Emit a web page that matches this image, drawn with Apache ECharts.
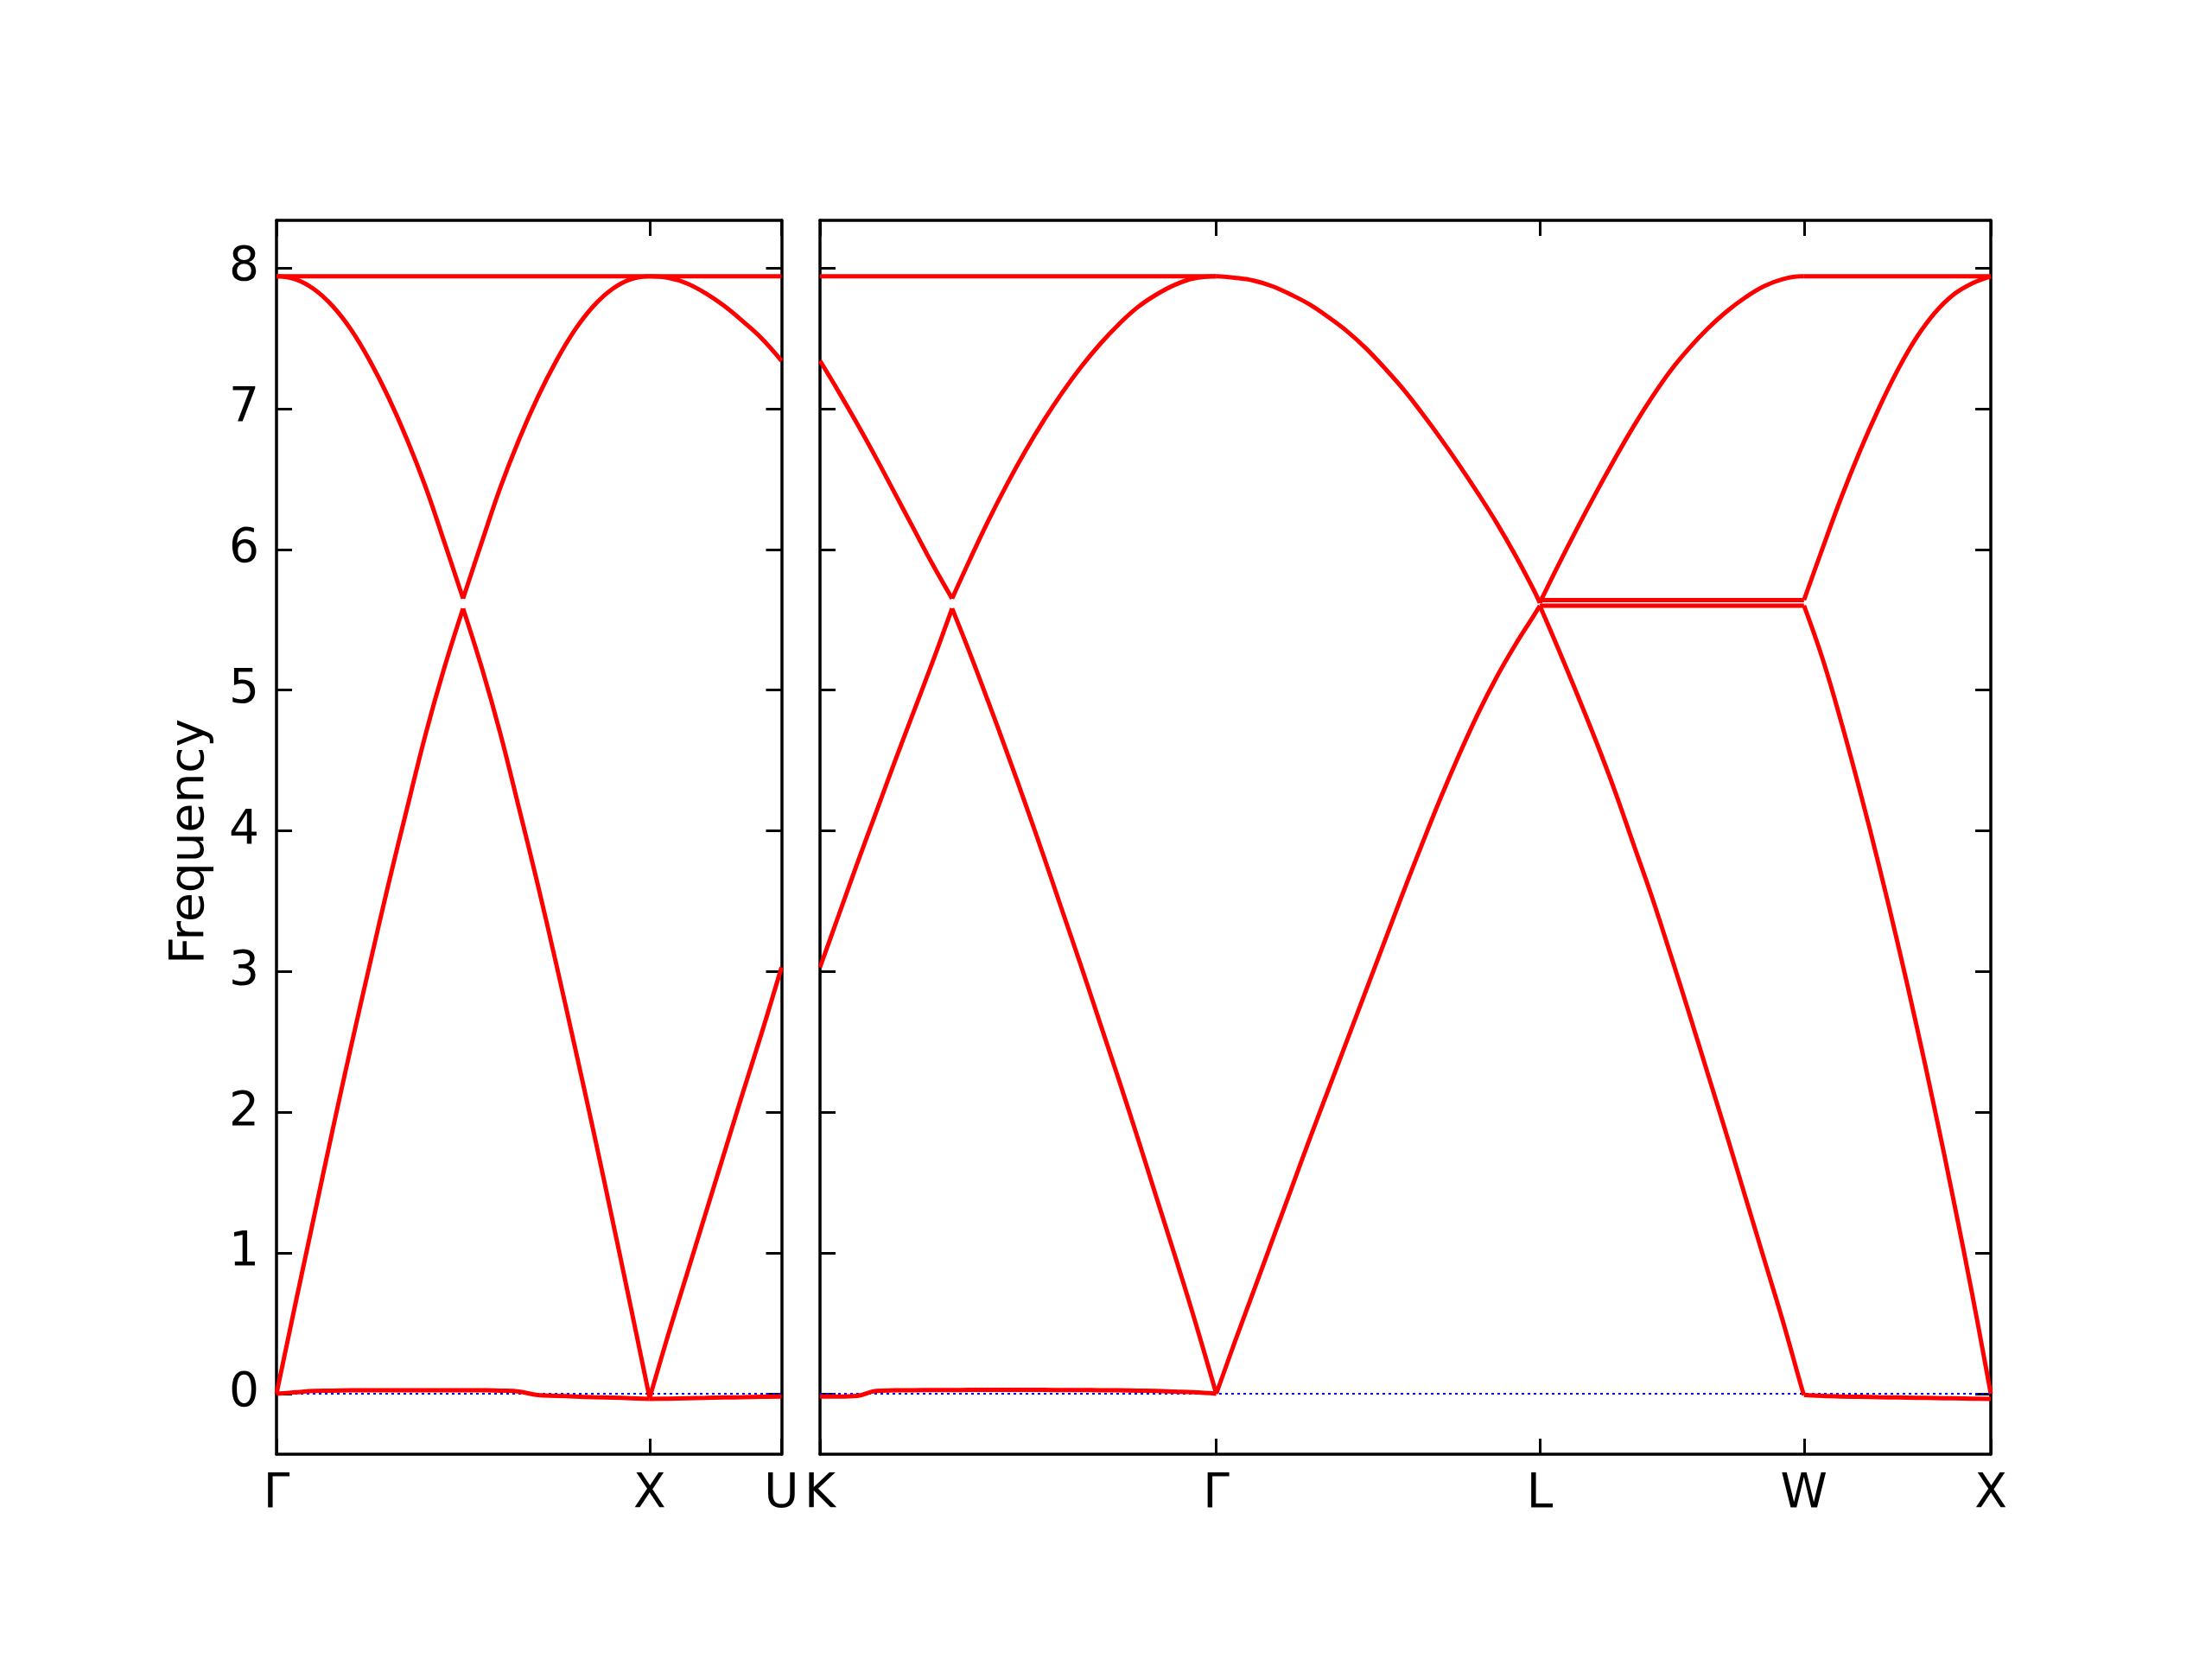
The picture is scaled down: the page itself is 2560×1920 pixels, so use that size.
<!DOCTYPE html>
<html><head><meta charset="utf-8">
<script src="https://cdn.jsdelivr.net/npm/echarts@6/dist/echarts.min.js"></script>
<style>html,body{margin:0;padding:0;background:#fff}#c{width:2560px;height:1920px}</style>
</head><body><div id="c"></div><script>
// ---- high-symmetry points (cumulative path distance) ----
const leftTickPos = [0, 1.0, 1.3536];
const leftTickNames = ['Γ', 'X', 'U'];
const rightTickPos = [1.3536, 2.4143, 3.2803, 3.9874, 4.4874];
const rightTickNames = ['K', 'Γ', 'L', 'W', 'X'];
const yTicks = [0, 1, 2, 3, 4, 5, 6, 7, 8];

// ---- Γ–X (start 0) ----
const tGX = [0,0.05,0.1,0.15,0.2,0.25,0.3,0.35,0.4,0.45,0.5,0.55,0.6,0.65,0.7,0.75,0.8,0.85,0.9,0.95,1.0];
const gxLow  = [0.00,0.01,0.02,0.022,0.024,0.025,0.025,0.025,0.025,0.025,0.025,0.024,0.022,0.015,-0.01,-0.015,-0.02,-0.025,-0.028,-0.032,-0.037];
const gxMid  = [0.00,0.63,1.25,1.87,2.47,3.05,3.62,4.16,4.69,5.16,5.58,5.16,4.69,4.16,3.62,3.05,2.46,1.86,1.24,0.61,-0.03];
const gxHigh = [7.94,7.92,7.85,7.73,7.56,7.34,7.08,6.78,6.44,6.05,5.65,6.05,6.44,6.78,7.08,7.34,7.56,7.73,7.85,7.92,7.94];
const gxTopT = [0, 1.0];
const gxTop  = [7.94, 7.94];

// ---- X–U (start 1.0) ----
const tXU = [0,0.05,0.1,0.15,0.2,0.25,0.3,0.3536];
const xuLow  = [-0.037,-0.035,-0.032,-0.03,-0.027,-0.025,-0.022,-0.02];
const xuMid  = [-0.03,0.42,0.85,1.28,1.71,2.14,2.56,3.03];
const xuHigh = [7.94,7.93,7.89,7.82,7.73,7.62,7.50,7.34];
const xuTopT = [0, 0.3536];
const xuTop  = [7.94, 7.94];

// ---- K–Γ (start 1.3536) ----
const tKG = [0,0.05,0.1,0.15,0.2,0.25,0.3,0.3536,0.4,0.45,0.5,0.55,0.6,0.65,0.7,0.75,0.8,0.85,0.9,0.95,1.0,1.0607];
const kgLow  = [-0.02,-0.02,-0.015,0.02,0.024,0.025,0.026,0.026,0.027,0.027,0.027,0.027,0.027,0.026,0.026,0.025,0.024,0.022,0.02,0.015,0.01,0.0];
const kgMid  = [3.03,3.40,3.77,4.13,4.49,4.84,5.19,5.58,5.27,4.92,4.56,4.19,3.81,3.42,3.03,2.63,2.23,1.82,1.40,0.98,0.55,0.0];
const kgHigh = [7.34,7.12,6.89,6.65,6.40,6.15,5.90,5.65,5.92,6.20,6.46,6.70,6.92,7.12,7.30,7.46,7.60,7.72,7.81,7.88,7.925,7.94];
const kgTopT = [0, 1.0607];
const kgTop  = [7.94, 7.94];

// ---- Γ–L (start 2.4143) ----
const tGL = [0,0.05,0.1,0.15,0.2,0.25,0.3,0.35,0.4,0.45,0.5,0.55,0.6,0.65,0.7,0.75,0.8,0.85,0.866];
const glLow  = [0.00,0.37,0.73,1.09,1.45,1.81,2.16,2.51,2.86,3.21,3.56,3.90,4.23,4.54,4.83,5.09,5.32,5.53,5.60];
const glHigh = [7.94,7.93,7.91,7.87,7.81,7.74,7.65,7.55,7.43,7.29,7.14,6.97,6.79,6.60,6.40,6.19,5.96,5.71,5.62];

// ---- L–W (start 3.2803) ----
const tLW = [0,0.05,0.1,0.15,0.2,0.25,0.3,0.35,0.4,0.45,0.5,0.55,0.6,0.65,0.7,0.7071];
const lwLow  = [5.60,5.29,4.97,4.64,4.29,3.91,3.53,3.12,2.70,2.27,1.84,1.40,0.96,0.52,0.05,-0.01];
const lwHigh = [5.62,5.89,6.15,6.40,6.64,6.87,7.08,7.27,7.43,7.57,7.69,7.79,7.87,7.92,7.94,7.94];
const lwFlatT = [0, 0.7071];
const lwFlatLo = [5.60, 5.60];
const lwFlatHi = [5.64, 5.64];

// ---- W–X (start 3.9874) ----
const tWX = [0,0.05,0.1,0.15,0.2,0.25,0.3,0.35,0.4,0.45,0.5];
const wxLow  = [-0.01,-0.015,-0.02,-0.022,-0.025,-0.027,-0.029,-0.031,-0.033,-0.035,-0.037];
const wxMid  = [5.60,5.22,4.77,4.28,3.76,3.21,2.63,2.02,1.38,0.71,0.00];
const wxHigh = [5.64,6.01,6.37,6.70,7.00,7.27,7.50,7.68,7.81,7.89,7.94];
const wxTopT = [0, 0.5];
const wxTop  = [7.94, 7.94];

const Y_MIN = -0.43, Y_MAX = 8.338;
const FONT = 'DejaVu Sans';
const FS = 55;

function seg(start, t, v, panel) {
  return {
    type: 'line', xAxisIndex: panel * 2, yAxisIndex: panel * 2,
    data: t.map((x, i) => [start + x, v[i]]),
    showSymbol: false, symbol: 'none', silent: true, z: 3, smooth: 0.4,
    lineStyle: { color: '#ff0000', width: 5 }
  };
}
// a band drawn as one line; if split is given, the sharp corner at that index is kept
function band(start, t, v, panel, split) {
  if (split === undefined) return [seg(start, t, v, panel)];
  return [seg(start, t.slice(0, split + 1), v.slice(0, split + 1), panel),
          seg(start, t.slice(split), v.slice(split), panel)];
}
function zeroLine(panel, a, b) {
  return {
    type: 'line', xAxisIndex: panel * 2, yAxisIndex: panel * 2,
    data: [[a, 0], [b, 0]], showSymbol: false, symbol: 'none', silent: true, z: 2,
    lineStyle: { color: '#0000ff', width: 2, type: [3, 4] }
  };
}

const series = [
  zeroLine(0, 0, 1.3536), zeroLine(1, 1.3536, 4.4874),
  ...band(0, tGX, gxLow, 0), ...band(0, tGX, gxMid, 0, 10), ...band(0, tGX, gxHigh, 0, 10), ...band(0, gxTopT, gxTop, 0),
  ...band(1.0, tXU, xuLow, 0), ...band(1.0, tXU, xuMid, 0), ...band(1.0, tXU, xuHigh, 0), ...band(1.0, xuTopT, xuTop, 0),
  ...band(1.3536, tKG, kgLow, 1), ...band(1.3536, tKG, kgMid, 1, 7), ...band(1.3536, tKG, kgHigh, 1, 7), ...band(1.3536, kgTopT, kgTop, 1),
  ...band(2.4143, tGL, glLow, 1), ...band(2.4143, tGL, glHigh, 1),
  ...band(3.2803, tLW, lwLow, 1), ...band(3.2803, tLW, lwHigh, 1), ...band(3.2803, lwFlatT, lwFlatLo, 1), ...band(3.2803, lwFlatT, lwFlatHi, 1),
  ...band(3.9874, tWX, wxLow, 1), ...band(3.9874, tWX, wxMid, 1), ...band(3.9874, tWX, wxHigh, 1), ...band(3.9874, wxTopT, wxTop, 1)
];

const axisLine = { show: true, onZero: false, lineStyle: { color: '#000', width: 3.5 } };
const tickStyle = { color: '#000', width: 3 };

function xAx(grid, pos, min, max, ticks, names) {
  return {
    type: 'value', gridIndex: grid, position: pos, min: min, max: max,
    axisLine: axisLine, splitLine: { show: false },
    axisTick: { show: true, inside: true, length: 18, lineStyle: tickStyle, customValues: ticks },
    axisLabel: names ? {
      show: true, customValues: ticks, margin: 19, color: '#000', fontFamily: FONT, fontSize: FS,
      showMinLabel: true, showMaxLabel: true, hideOverlap: false,
      formatter: function (v) {
        for (let i = 0; i < ticks.length; i++) if (Math.abs(ticks[i] - v) < 1e-6) return names[i];
        return '';
      }
    } : { show: false }
  };
}
function yAx(grid, pos, labels) {
  return {
    type: 'value', gridIndex: grid, position: pos, min: Y_MIN, max: Y_MAX,
    axisLine: axisLine, splitLine: { show: false },
    axisTick: { show: true, inside: true, length: 18, lineStyle: tickStyle, customValues: yTicks },
    axisLabel: labels ? {
      show: true, customValues: yTicks, margin: 20, color: '#000', fontFamily: FONT, fontSize: FS,
      showMinLabel: true, showMaxLabel: true, formatter: v => String(Math.round(v))
    } : { show: false }
  };
}

const option = {
  animation: false,
  backgroundColor: '#ffffff',
  grid: [
    { left: 320, top: 255, width: 584.5, height: 1428 },
    { left: 949, top: 255, width: 1355, height: 1428 }
  ],
  xAxis: [
    xAx(0, 'bottom', 0, 1.3536, leftTickPos, leftTickNames),
    xAx(0, 'top', 0, 1.3536, leftTickPos, null),
    xAx(1, 'bottom', 1.3536, 4.4874, rightTickPos, rightTickNames),
    xAx(1, 'top', 1.3536, 4.4874, rightTickPos, null)
  ],
  yAxis: [
    yAx(0, 'left', true), yAx(0, 'right', false),
    yAx(1, 'left', false), yAx(1, 'right', false)
  ],
  graphic: [{
    type: 'text', x: 221, y: 974, rotation: Math.PI / 2, silent: true,
    style: { text: 'Frequency', fontFamily: FONT, fontSize: FS, fill: '#000',
             align: 'center', verticalAlign: 'middle', textAlign: 'center', textVerticalAlign: 'middle' }
  }],
  series: series
};
const chart = echarts.init(document.getElementById('c'), null, { renderer: 'canvas' });
chart.setOption(option);
</script></body></html>
